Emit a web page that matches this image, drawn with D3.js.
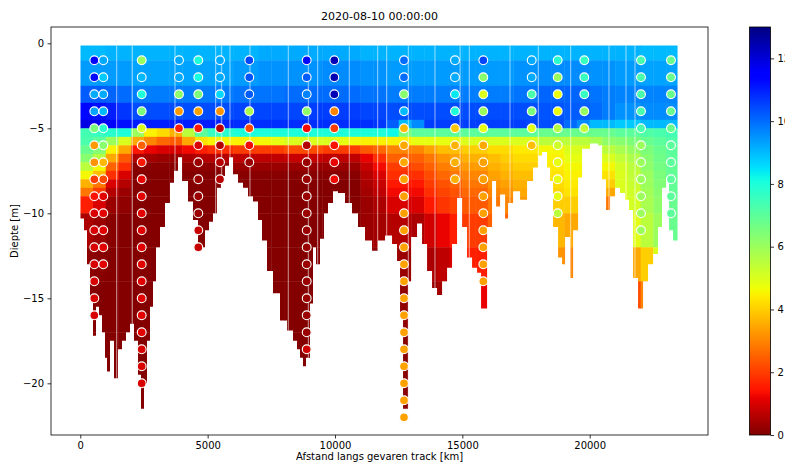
<!DOCTYPE html>
<html><head><meta charset="utf-8">
<script src="https://cdn.jsdelivr.net/npm/d3@7"></script>
<style>body{margin:0;background:#fff}svg{display:block}text{font-family:"DejaVu Sans",sans-serif}</style>
</head><body><svg id="c" width="785" height="464"></svg>
<script>
// ---------------- data ----------------
const title = "2020-08-10 00:00:00";
const xTicks = [0, 5000, 10000, 15000, 20000];
const yTicks = [0, -5, -10, -15, -20];
const cbTicks = [0, 2, 4, 6, 8, 10, 12];
const vMin = 0, vMax = 13;

// model field (colour mesh): column edges (km), depth edges (m), values per depth row
const fieldColEdges = [0,500,1000,1500,2000,2500,3000,3500,4000,4500,5000,5500,6000,6500,7000,7500,8000,8500,9000,9500,10000,10500,11000,11500,12000,12500,13000,13500,14000,14500,15000,15500,16000,16500,17000,17500,18000,18500,19000,19500,20000,20500,21000,21500,22000,22500,23000,23450];
const fieldDepthEdges = [-0.12,-1,-2.5,-3.5,-4.5,-5,-5.5,-6,-6.5,-7,-7.5,-8,-8.5,-9,-10,-12,-14,-17,-23];
const fieldRows = [
 [9.0,9.0,9.1,9.1,9.1,9.1,9.1,9.1,9.1,9.1, 9.1,9.1,9.1,9.1,9.2,9.2,9.2,9.2,9.2,9.2, 9.2,9.2,9.1,9.1,9.1,9.1,9.1,9.1,9.1,9.1, 9.1,9.1,9.1,9.1,9.1,9.1,9.1,9.1,9.1,9.1, 9.1,9.1,9.1,9.1,9.0,9.0,9.0],
 [9.4,9.4,9.4,9.4,9.3,9.3,9.3,9.3,9.3,9.3, 9.3,9.3,9.4,9.4,9.5,9.5,9.5,9.5,9.5,9.6, 9.6,9.6,9.5,9.5,9.4,9.4,9.4,9.4,9.4,9.4, 9.4,9.4,9.4,9.4,9.5,9.5,9.6,9.6,9.6,9.6, 9.5,9.5,9.4,9.4,9.3,9.3,9.3],
 [10.2,10.2,10.1,10.0,9.8,9.8,9.8,9.8,9.8,9.8, 9.8,9.8,9.9,9.9,9.9,9.9,10.0,10.0,10.0,10.0, 10.0,10.0,9.9,9.9,9.8,9.8,9.8,9.8,9.8,9.8, 9.8,9.8,9.8,9.8,9.9,9.9,10.1,10.1,10.1,10.1, 9.9,9.8,9.7,9.7,9.7,9.7,9.7],
 [11.3,11.2,11.0,10.7,10.4,10.4,10.4,10.4,10.4,10.4, 10.4,10.4,10.5,10.5,10.5,10.5,10.5,10.5,10.6,10.6, 10.6,10.6,10.5,10.5,10.4,10.4,10.4,10.4,10.4,10.4, 10.4,10.4,10.4,10.4,10.4,10.4,10.3,10.3,10.2,10.2, 10.0,9.8,9.5,9.5,9.6,9.6,9.6],
 [11.9,11.8,11.4,11.2,11.0,11.0,11.0,11.0,11.0,11.0, 11.0,10.9,10.8,10.8,10.8,10.8,10.8,10.8,10.8,10.8, 10.8,10.8,10.8,10.7,10.2,9.0,9.6,10.6,10.6,10.6, 10.6,10.6,10.6,10.6,10.6,10.5,10.4,10.4,10.0,9.6, 9.0,9.0,8.8,8.8,9.0,9.0,9.0],
 [7.4,7.6,7.8,8.0,6.0,4.5,4.2,3.6,5.5,7.0, 7.6,7.8,8.0,8.0,8.0,8.0,8.0,8.0,8.0,8.0, 8.0,8.0,8.0,8.0,8.2,6.5,7.0,7.0,7.0,7.0, 7.0,7.0,7.0,7.0,7.0,7.0,6.8,6.8,6.8,6.8, 6.8,6.8,7.0,7.0,7.2,7.3,7.4],
 [7.3,7.0,6.0,5.0,3.5,3.0,2.6,2.4,3.5,4.3, 4.5,4.5,4.5,4.5,4.6,4.8,5.0,5.0,5.0,5.0, 4.8,4.6,4.5,4.5,4.5,4.5,4.8,4.8,4.8,4.8, 5.0,5.0,5.0,5.0,5.0,5.0,5.5,5.5,5.5,5.5, 5.8,6.2,6.3,6.5,6.8,7.0,7.2],
 [6.8,6.4,4.5,3.5,1.5,1.2,1.0,1.0,1.3,1.6, 1.8,1.8,2.0,2.0,2.0,2.0,2.2,2.2,2.2,2.0, 2.0,2.0,2.4,2.6,3.0,3.0,3.0,3.4,3.8,3.8, 4.0,4.0,4.2,4.2,4.4,4.4,4.6,4.6,5.0,5.0, 5.3,5.5,5.8,6.1,6.5,6.8,7.0],
 [6.3,5.6,3.5,2.4,0.5,0.4,0.3,0.3,0.5,0.6, 0.6,0.6,0.7,0.7,0.7,0.7,0.8,0.8,0.8,0.7, 0.7,0.7,1.2,1.8,2.5,2.5,2.5,2.8,3.2,3.4, 3.6,3.6,3.8,4.0,4.2,4.2,4.5,4.5,4.8,4.8, 5.0,5.0,5.4,5.7,6.3,6.7,7.0],
 [5.5,4.6,2.5,1.8,0.1,0.1,0.1,0.1,0.2,0.2, 0.2,0.2,0.3,0.3,0.3,0.3,0.3,0.3,0.3,0.3, 0.3,0.3,0.8,1.3,2.0,2.0,2.2,2.5,2.9,3.1, 3.3,3.3,3.6,3.8,4.0,4.0,4.4,4.4,4.6,4.6, 4.6,4.6,5.1,5.5,6.2,6.6,6.9],
 [4.6,3.8,1.8,1.0,0.05,0.05,0.05,0.05,0.05,0.05, 0.05,0.05,0.1,0.1,0.1,0.1,0.1,0.1,0.1,0.1, 0.1,0.1,0.6,1.0,1.8,1.8,1.8,2.2,2.6,2.8, 3.0,3.0,3.4,3.6,3.8,3.8,4.3,4.3,4.5,4.5, 4.3,4.3,5.0,5.4,6.0,6.5,6.9],
 [3.6,2.8,1.0,0.6,0.05,0.05,0.05,0.05,0.05,0.05, 0.05,0.05,0.05,0.05,0.05,0.05,0.05,0.05,0.05,0.05, 0.05,0.05,0.5,0.8,1.5,1.5,1.5,2.0,2.3,2.5, 2.8,2.8,3.2,3.4,3.6,3.6,4.2,4.2,4.4,4.4, 4.0,4.0,5.0,5.3,6.0,6.4,6.9],
 [2.8,2.0,0.6,0.3,0.05,0.05,0.05,0.05,0.05,0.05, 0.05,0.05,0.05,0.05,0.05,0.05,0.05,0.05,0.05,0.05, 0.05,0.05,0.4,0.7,1.3,1.3,1.3,1.8,2.1,2.3, 2.6,2.6,3.0,3.2,3.5,3.5,4.1,4.1,4.3,4.3, 3.5,3.5,5.0,5.2,5.9,6.3,6.9],
 [1.6,1.0,0.3,0.2,0.05,0.05,0.05,0.05,0.05,0.05, 0.05,0.05,0.05,0.05,0.05,0.05,0.05,0.05,0.05,0.05, 0.05,0.05,0.3,0.5,1.0,1.0,1.0,1.5,1.9,2.1, 2.4,2.4,2.8,3.0,3.3,3.3,4.0,4.0,4.0,4.0, 2.8,2.8,4.9,5.1,5.8,6.2,6.8],
 [0.5,0.3,0.1,0.05,0.05,0.05,0.05,0.05,0.05,0.05, 0.05,0.05,0.05,0.05,0.05,0.05,0.05,0.05,0.05,0.05, 0.05,0.05,0.3,0.4,0.6,0.6,0.5,0.9,1.2,1.6, 2.0,2.0,2.5,2.5,3.0,3.0,3.7,3.7,3.5,3.5, 2.5,2.5,4.7,4.9,5.5,6.0,6.8],
 [0.15,0.1,0.05,0.05,0.05,0.05,0.05,0.05,0.05,0.05, 0.05,0.05,0.05,0.05,0.05,0.05,0.05,0.05,0.05,0.05, 0.05,0.05,0.2,0.2,0.3,0.3,0.3,0.5,0.7,1.0, 1.6,1.6,2.0,2.0,2.5,2.5,3.2,3.2,3.0,3.0, 2.0,2.0,3.5,3.5,4.0,5.0,6.6],
 [0.05,0.05,0.05,0.05,0.05,0.05,0.05,0.05,0.05,0.05, 0.05,0.05,0.05,0.05,0.05,0.05,0.05,0.05,0.05,0.05, 0.05,0.05,0.1,0.1,0.2,0.2,0.2,0.3,0.4,0.6, 1.2,1.2,1.5,1.5,2.0,2.0,2.5,2.5,2.5,2.5, 1.5,1.5,2.2,2.2,3.0,4.0,6.5],
 [0.05,0.05,0.05,0.05,0.05,0.05,0.05,0.05,0.05,0.05, 0.05,0.05,0.05,0.05,0.05,0.05,0.05,0.05,0.05,0.05, 0.05,0.05,0.1,0.1,0.1,0.1,0.1,0.2,0.3,0.4, 0.8,0.8,1.0,1.0,1.5,1.5,2.0,2.0,2.0,2.0, 1.0,1.0,1.5,1.5,2.5,3.5,6.0]
];

// bottom (water depth) along the track
const bathyKm = [0,145,263,380,499,616,734,852,970,1048,1166,1323,1480,1637,1794,1951,2108,2265,2383,2501,2619,2737,2854,2972,3129,3325,3522,3679,3836,3993,4229,4425,4621,4778,4896,5053,5210,5367,5524,5681,5838,5995,6192,6388,6584,6781,6977,7134,7331,7566,7841,8116,8352,8509,8627,8744,8862,9019,9137,9255,9412,9569,9726,9922,10119,10394,10669,10904,11179,11454,11690,11965,12240,12436,12554,12672,12790,12869,12987,13222,13418,13615,13811,14007,14204,14400,14596,14793,14989,15185,15382,15578,15735,15853,15971,16167,16324,16481,16678,16795,16992,17267,17541,17777,17973,18130,18327,18445,18563,18759,18916,19034,19230,19348,19544,19701,20015,20329,20486,20643,20800,20996,21192,21389,21546,21703,21899,22095,22291,22488,22684,22841,22998,23116,23273,23450];
const bathyDepth = [10.3,11,13,15,17.2,15.5,16,17,18.5,19.3,17.5,19.7,18,17.5,17,16.5,17.5,19.5,21.5,20,17.5,15.5,14,12,10.8,9.4,8.2,7.5,6.7,8.1,9.3,10.4,12.2,12,11,10.5,10,8.5,7.8,7.2,6.7,7.7,8.2,8.5,9,9.3,10.4,11.6,13.4,14.7,16.3,16.9,17.5,18,18.5,19,18.5,15.3,12,13,11.5,10,9.4,8.7,8.8,9.4,10,10.8,11.6,12.2,11.6,11.3,11.8,12.8,16,21.5,21.5,14,11.4,10.6,11.8,13.4,14.4,14.8,14,13.2,11.8,9.1,10.8,12.6,13.2,13.5,15.6,15.6,10.8,8.1,9.6,8.9,10.3,9.4,8.7,9.2,8.1,7.3,6.6,6.4,7.3,8.1,10.8,12.6,13,11.4,13.8,11,7.9,6.2,5.9,6.0,8,9.8,9,8.5,8.8,9.2,9.8,13.8,15.6,14,13,12.4,10.8,8.5,7.9,11,11.6,11.4];

// positions of casts (thin vertical lines)
const castKm = [1429,2042,3718,5316,5552,5877,6662,8166,8952,9321,10561,11676,12030,12878,13926,14912,15273,16871,17982,19254,20758,21426,21779];

// measured stations: position (km) and values at 1, 2, 3 ... m depth
const stationKm = [550,903,2411,3875,4633,5485,6635,8889,9973,12709,14712,15823,17723,18744,19788,22014,23192];
const stationValues = [
 [11.5,11.3,9.2,9.3,6.5,3.3,3.2,2.0,1.4,1.0,1.0,1.0,1.0,1.0,1.0,1.0],
 [9.2,8.8,9.2,9.0,7.8,6.3,3.7,2.2,1.1,1.1,1.1,1.1,1.1],
 [6.0,9.0,8.0,6.5,5.0,2.5,1.5,1.2,1.1,1.1,1.1,1.1,1.1,1.1,1.1,1.1,1.1,1.0,1.0,1.0],
 [9.2,9.2,6.2,3.3,1.6],
 [8.0,8.1,6.5,3.4,1.5,1.0,0.3,0.3,0.3,0.3,0.8,0.8],
 [9.2,9.2,8.6,3.2,0.7,0.6,0.6,0.6],
 [10.5,10.3,10.2,5.7,2.2,1.3,0.3],
 [11.3,10.2,9.7,6.2,1.3,0.6,0.3,0.3,0.3,0.3,0.3,0.3,0.3,0.3,0.3,0.3,0.3,0.9],
 [12.4,12.4,12.4,3.0,2.0,1.4,1.2,1.3],
 [10.0,10.0,6.3,9.0,3.7,3.5,3.5,3.5,3.4,3.4,3.4,3.4,3.4,3.4,3.4,3.4,3.4,3.4,3.4,3.4,3.4,3.4],
 [9.2,9.2,8.4,8.0,3.9,3.6,3.6,3.6],
 [10.5,6.3,5.0,6.0,4.8,3.5,3.4,3.4,3.4,3.4,3.4,3.4,3.4,3.4],
 [9.2,9.2,7.3,6.5,4.9,3.8],
 [7.8,6.0,4.7,4.7,5.6,5.2,4.8,4.8,4.8,5.5],
 [7.6,7.6,7.6,6.1,5.4],
 [7.3,7.3,7.3,7.3,7.3,6.0,6.0,6.0,6.0,6.0,6.0],
 [6.8,6.8,6.8,6.8,6.8,7.0,7.0,7.0,7.0,7.0]
];

// ---------------- colormap (matplotlib jet, reversed) ----------------
const jetSeg = {
  r: [[0,0],[0.35,0],[0.66,1],[0.89,1],[1,0.5]],
  g: [[0,0],[0.125,0],[0.375,1],[0.64,1],[0.91,0],[1,0]],
  b: [[0,0.5],[0.11,1],[0.34,1],[0.65,0],[1,0]]
};
function segVal(seg, t) {
  for (let i = 1; i < seg.length; i++) {
    if (t <= seg[i][0]) {
      const [x0, y0] = seg[i-1], [x1, y1] = seg[i];
      return y0 + (y1 - y0) * (t - x0) / (x1 - x0);
    }
  }
  return seg[seg.length-1][1];
}
function jet(t) {
  t = Math.max(0, Math.min(1, t));
  return d3.rgb(255*segVal(jetSeg.r,t), 255*segVal(jetSeg.g,t), 255*segVal(jetSeg.b,t)).toString();
}
const norm = d3.scaleLinear().domain([vMin, vMax]).range([1, 0]).clamp(true);
const color = v => jet(norm(v));

// ---------------- layout ----------------
const svg = d3.select("#c");
const L = 51, R = 708, T = 27, B = 435;
const x = d3.scaleLinear().domain([-1150, 24645]).range([L, R]);
const y = d3.scaleLinear().domain([-23.04, 0.96]).range([B, T]);

// clip = water column above the bottom
const clipArea = d3.area()
  .x((d, i) => x(bathyKm[i]))
  .y0(y(fieldDepthEdges[0]))
  .y1((d, i) => y(-bathyDepth[i]))
  .curve(d3.curveStepAfter);
svg.append("defs").append("clipPath").attr("id", "water")
  .append("path").attr("d", clipArea(bathyDepth));

const gField = svg.append("g").attr("clip-path", "url(#water)");
fieldRows.forEach((row, r) => {
  row.forEach((v, c) => {
    const x0 = x(fieldColEdges[c]), x1 = x(fieldColEdges[c+1]);
    const y0 = y(fieldDepthEdges[r]), y1 = y(fieldDepthEdges[r+1]);
    gField.append("rect")
      .attr("x", x0).attr("y", y0)
      .attr("width", x1 - x0 + 0.4).attr("height", y1 - y0 + 0.4)
      .attr("fill", color(v));
  });
});
gField.selectAll("line.cast").data(castKm).join("line")
  .attr("class", "cast")
  .attr("x1", d => x(d)).attr("x2", d => x(d))
  .attr("y1", y(fieldDepthEdges[0])).attr("y2", y(-23))
  .attr("stroke", "#fff").attr("stroke-opacity", 0.6).attr("stroke-width", 1);

// station dots
const dots = [];
stationValues.forEach((vals, s) => vals.forEach((v, i) => dots.push({km: stationKm[s], depth: -(i+1), v})));
svg.append("g").selectAll("circle").data(dots).join("circle")
  .attr("cx", d => x(d.km)).attr("cy", d => y(d.depth)).attr("r", 4.4)
  .attr("fill", d => color(d.v))
  .attr("stroke", "#fff").attr("stroke-width", 1.1);

// axes
const xAxis = d3.axisBottom(x).tickValues(xTicks).tickSize(3.5).tickPadding(3.5).tickFormat(d3.format("d"));
const gx = svg.append("g").attr("transform", `translate(0,${B})`).call(xAxis);
const yAxis = d3.axisLeft(y).tickValues(yTicks).tickSize(3.5).tickPadding(3.5).tickFormat(d3.format("d"));
const gy = svg.append("g").attr("transform", `translate(${L},0)`).call(yAxis);
[gx, gy].forEach(g => {
  g.select(".domain").remove();
  g.selectAll("text").attr("font-size", 10).attr("fill", "#000").style("font-family", "DejaVu Sans");
  g.selectAll("line").attr("stroke", "#000").attr("stroke-width", 0.8);
});
// spines
svg.append("rect").attr("x", L).attr("y", T).attr("width", R - L).attr("height", B - T)
  .attr("fill", "none").attr("stroke", "#000").attr("stroke-width", 0.8);

// labels
svg.append("text").attr("x", (L + R) / 2).attr("y", 20).attr("text-anchor", "middle")
  .attr("font-size", 11).text(title);
svg.append("text").attr("x", (L + R) / 2).attr("y", 460).attr("text-anchor", "middle")
  .attr("font-size", 10).text("Afstand langs gevaren track [km]");
svg.append("text").attr("transform", `translate(18,${(T + B) / 2}) rotate(-90)`).attr("text-anchor", "middle")
  .attr("font-size", 10).text("Diepte [m]");

// colorbar
const cbX = 749.5, cbW = 21;
const cb = d3.scaleLinear().domain([vMin, vMax]).range([B, T]);
const grad = svg.select("defs").append("linearGradient").attr("id", "cbgrad")
  .attr("x1", 0).attr("y1", 1).attr("x2", 0).attr("y2", 0);
d3.range(0, 101).forEach(i => {
  const v = vMin + (vMax - vMin) * i / 100;
  grad.append("stop").attr("offset", i / 100).attr("stop-color", color(v));
});
svg.append("rect").attr("x", cbX).attr("y", T).attr("width", cbW).attr("height", B - T)
  .attr("fill", "url(#cbgrad)").attr("stroke", "#000").attr("stroke-width", 0.8);
const gcb = svg.append("g").attr("transform", `translate(${cbX + cbW},0)`)
  .call(d3.axisRight(cb).tickValues(cbTicks).tickSize(3.5).tickPadding(3.5));
gcb.select(".domain").remove();
gcb.selectAll("text").attr("font-size", 10).attr("fill", "#000").style("font-family", "DejaVu Sans");
gcb.selectAll("line").attr("stroke", "#000").attr("stroke-width", 0.8);
</script></body></html>
